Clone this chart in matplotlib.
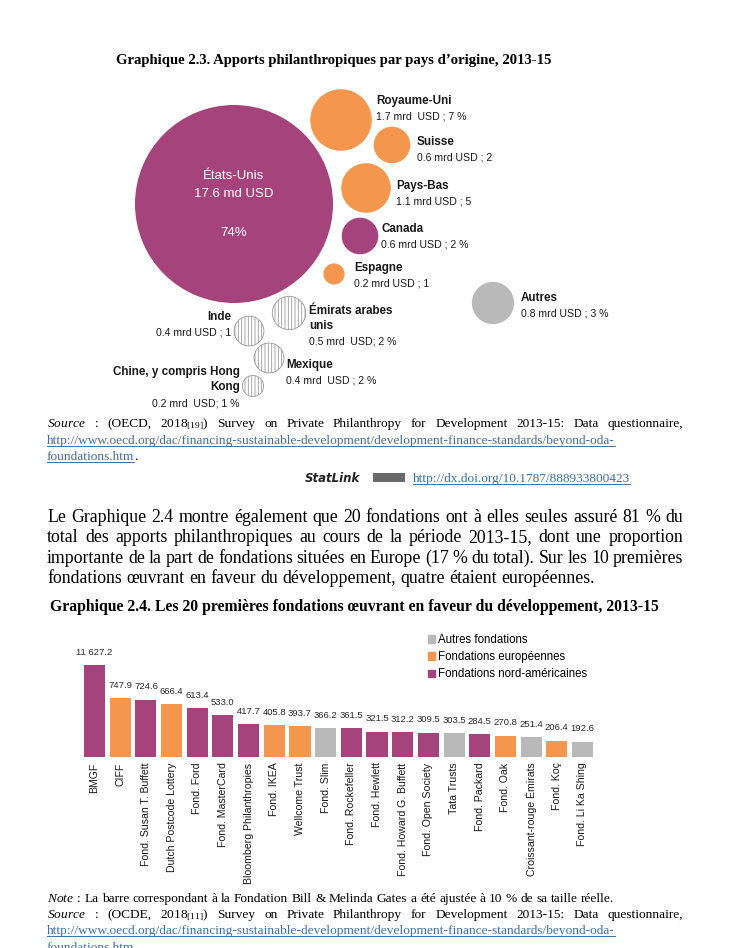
import matplotlib
matplotlib.use("Agg")
import matplotlib.pyplot as plt
from matplotlib.patches import Circle, Rectangle, Patch

plt.rcParams['mathtext.fontset'] = 'custom'
plt.rcParams['mathtext.rm'] = 'Liberation Serif'
plt.rcParams['mathtext.it'] = 'Liberation Serif:italic'
plt.rcParams['hatch.linewidth'] = 0.6

PURPLE = "#a5437c"
ORANGE = "#f5964f"
GREY = "#b9b9b9"
LINK = "#3f6fa6"
SANS = ["Liberation Sans", "DejaVu Sans"]
SERIF = ["Liberation Serif", "DejaVu Serif"]

# --- Graphique 2.3 data (mrd USD)
countries = ["États-Unis", "Royaume-Uni", "Suisse", "Pays-Bas", "Canada", "Espagne",
             "Émirats arabes\nunis", "Inde", "Mexique", "Chine, y compris Hong\nKong", "Autres"]
amounts = [17.6, 1.7, 0.6, 1.1, 0.6, 0.2, 0.5, 0.4, 0.4, 0.2, 0.8]
amount_labels = ["17.6 md USD", "1.7 mrd  USD ; 7 %", "0.6 mrd USD ; 2", "1.1 mrd USD ; 5",
                 "0.6 mrd USD ; 2 %", "0.2 mrd USD ; 1", "0.5 mrd  USD; 2 %", "0.4 mrd USD ; 1",
                 "0.4 mrd  USD ; 2 %", "0.2 mrd  USD; 1 %", "0.8 mrd USD ; 3 %"]
country_groups = ["na", "eu", "eu", "eu", "na", "eu", "hatch", "hatch", "hatch", "hatch", "other"]

# --- Graphique 2.4 data (mln USD)
foundations = ["BMGF", "CIFF", "Fond. Susan T. Buffett", "Dutch Postcode Lottery", "Fond. Ford",
               "Fond. MasterCard", "Bloomberg Philanthropies", "Fond. IKEA", "Wellcome Trust",
               "Fond. Slim", "Fond. Rockefeller", "Fond. Hewlett", "Fond. Howard G. Buffett",
               "Fond. Open Society", "Tata Trusts", "Fond. Packard", "Fond. Oak",
               "Croissant-rouge Émirats", "Fond. Koç", "Fond. Li Ka Shing"]
flows = [11627.2, 747.9, 724.6, 666.4, 613.4, 533.0, 417.7, 405.8, 393.7, 366.2, 361.5,
         321.5, 312.2, 309.5, 303.5, 284.5, 270.8, 251.4, 206.4, 192.6]
found_groups = ["na", "eu", "na", "eu", "na", "na", "na", "eu", "eu", "other", "na", "na",
                "na", "na", "other", "na", "eu", "other", "eu", "other"]
legend_labels = ["Autres fondations", "Fondations européennes", "Fondations nord-américaines"]

colors = {"na": PURPLE, "eu": ORANGE, "other": GREY, "hatch": "white"}

fig = plt.figure(figsize=(7.3, 9.48), dpi=100)
page = fig.add_axes([0, 0, 1, 1])
page.set_xlim(0, 730)
page.set_ylim(948, 0)
page.axis("off")

# bubble layout (page pixels), label anchors
centers = [(234, 204), (341, 120), (392, 145), (366, 188), (360, 236), (334, 274),
           (289, 313), (249, 331), (269, 358), (253, 386), (493, 303)]
label_pos = [None, (376, 101, "left"), (417, 142, "left"), (396, 186, "left"), (381, 229, "left"),
             (354, 268, "left"), (309, 311, "left"), (231, 317, "right"), (286, 365, "left"),
             (240, 372, "right"), (521, 298, "left")]
k = 23.6  # px per sqrt(mrd)

for i, (c, a, g) in enumerate(zip(centers, amounts, country_groups)):
    r = k * a ** 0.5
    if g == "hatch":
        page.add_patch(Circle(c, r, facecolor="white", edgecolor="#9a9a9a", hatch="|||||", lw=0.6))
    else:
        page.add_patch(Circle(c, r, facecolor=colors[g], edgecolor="none"))
    if label_pos[i] is None:
        continue
    x, y, ha = label_pos[i]
    lines = countries[i].split("\n")
    for j, ln in enumerate(lines):
        page.text(x, y + 15 * j, ln, ha=ha, va="center", fontsize=8.4, fontweight="bold",
                  family=SANS, color="#1a1a1a")
    page.text(x, y + 15.5 * len(lines), amount_labels[i], ha=ha, va="center", fontsize=7.6,
              family=SANS, color="#1a1a1a")

# text inside the United States bubble
for y, s in [(176, countries[0]), (194, amount_labels[0]), (233, "74%")]:
    page.text(234, y, s, ha="center", va="center", fontsize=9.5, family=SANS, color="white")

page.text(334, 64, "Graphique 2.3. Apports philanthropiques par pays d’origine, 2013-15",
          ha="center", va="baseline", fontsize=10.6, fontweight="bold", family=SERIF)

renderer = fig.canvas.get_renderer()


def put_line(line, x0, x1, y, justify=True, **kw):
    words = line.split(" ")
    texts = [page.text(0, y, w, va="baseline", **kw) for w in words]
    widths = [t.get_window_extent(renderer).width for t in texts]
    space = texts[0].get_fontsize() * 0.25 * 100 / 72
    gap = (x1 - x0 - sum(widths)) / (len(words) - 1) if justify and len(words) > 1 else space
    x = x0
    for t, w in zip(texts, widths):
        t.set_x(x)
        x += w + gap
    return x - gap


def put_link(line, x0, y, size):
    t = page.text(x0, y, line, va="baseline", fontsize=size, family=SERIF, color=LINK)
    w = t.get_window_extent(renderer).width
    page.plot([x0, x0 + w], [y + 2, y + 2], color=LINK, lw=0.7)
    return x0 + w


L, R = 47, 683
src_size = 9.6
url = "http://www.oecd.org/dac/financing-sustainable-development/development-finance-standards/beyond-oda-"
put_line(r"$\mathit{Source}$ : (OECD, 2018$_{[19]}$) Survey on Private Philanthropy for Development 2013-15: Data questionnaire,",
         L, R, 427, fontsize=src_size, family=SERIF)
put_link(url, L, 444, src_size)
end = put_link("foundations.htm", L, 460, src_size)
page.text(end, 460, ".", va="baseline", fontsize=src_size, family=SERIF)

page.text(305, 482, "StatLink", va="baseline", fontsize=8.5, fontweight="bold", style="italic",
          family=["DejaVu Sans"], color="#222222")
page.add_patch(Rectangle((373, 473), 32, 9, facecolor="#6a6a6a", edgecolor="none"))
put_link("http://dx.doi.org/10.1787/888933800423", 413, 482, src_size)

para = ["Le Graphique 2.4 montre également que 20 fondations ont à elles seules assuré 81 % du",
        "total des apports philanthropiques au cours de la période 2013-15, dont une proportion",
        "importante de la part de fondations situées en Europe (17 % du total). Sur les 10 premières",
        "fondations œuvrant en faveur du développement, quatre étaient européennes."]
for i, ln in enumerate(para):
    put_line(ln, L, R, 522 + 20.3 * i, justify=i < len(para) - 1, fontsize=12.8, family=SERIF)

page.text(50, 611, "Graphique 2.4. Les 20 premières fondations œuvrant en faveur du développement, 2013-15",
          va="baseline", fontsize=11.3, fontweight="bold", family=SERIF)

put_line(r"$\mathit{Note}$ : La barre correspondant à la Fondation Bill & Melinda Gates a été ajustée à 10 % de sa taille réelle.",
         L, R, 902, justify=False, fontsize=src_size, family=SERIF)
put_line(r"$\mathit{Source}$ : (OCDE, 2018$_{[11]}$) Survey on Private Philanthropy for Development 2013-15: Data questionnaire,",
         L, R, 918, fontsize=src_size, family=SERIF)
put_link(url, L, 934, src_size)
put_link("foundations.htm", L, 951, src_size)

# --- bar chart
px_per_unit = 0.0791
left_px, right_px, bottom_px, top_px = 81.7, 595.3, 757, 625
ax = fig.add_axes([left_px / 730, (948 - bottom_px) / 948,
                   (right_px - left_px) / 730, (bottom_px - top_px) / 948])
ax.patch.set_alpha(0)
heights = [v * 0.1 if i == 0 else v for i, v in enumerate(flows)]  # BMGF shown at 10 %
xs = list(range(len(foundations)))
ax.bar(xs, heights, width=0.82, color=[colors[g] for g in found_groups])
ax.set_xlim(-0.5, len(foundations) - 0.5)
ax.set_ylim(0, (bottom_px - top_px) / px_per_unit)
for x, h, v in zip(xs, heights, flows):
    txt = f"{v:,.1f}".replace(",", " ")
    ax.annotate(txt, (x, h), xytext=(0, 9.2), textcoords="offset points", ha="center",
                va="center", fontsize=6.8, family=SANS, color="#2a2a2a")
ax.set_xticks(xs)
ax.set_xticklabels(foundations, rotation=90, fontsize=7.6, family=SANS, color="#1a1a1a")
ax.tick_params(axis="x", length=0, pad=4)
ax.set_yticks([])
for s in ax.spines.values():
    s.set_visible(False)

handles = [Patch(color=GREY), Patch(color=ORANGE), Patch(color=PURPLE)]
fig.legend(handles, legend_labels, loc="upper left", bbox_to_anchor=(428 / 730, 1 - 634 / 948),
           frameon=False, prop={"family": SANS, "size": 8.3}, handlelength=0.6,
           handleheight=0.6, handletextpad=0.3, labelspacing=0.45, borderaxespad=0, borderpad=0)

fig.savefig("out.png", dpi=100, facecolor="white")
